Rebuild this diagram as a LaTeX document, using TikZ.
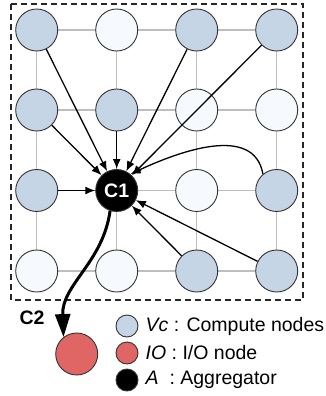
\documentclass[tikz,border=0pt]{standalone}
\usepackage{fontspec}
\setmainfont{Liberation Sans}
\usetikzlibrary{arrows.meta}
\definecolor{vcblue}{HTML}{C6D5E6}
\definecolor{vwhite}{HTML}{F6FAFE}
\definecolor{ioRed}{HTML}{E06666}
\definecolor{gridgray}{HTML}{BEBEBE}
\definecolor{edge}{HTML}{333333}
\tikzset{
  cnode/.style={circle, draw=edge, line width=0.9pt, minimum size=42pt, inner sep=0pt},
  busy/.style={cnode, fill=vcblue},
  idle/.style={cnode, fill=vwhite},
  agg/.style={cnode, fill=black, text=white, font=\fontsize{19.5}{22}\selectfont\bfseries},
  ionode/.style={cnode, fill=ioRed},
  legc/.style={circle, draw=edge, line width=0.9pt, minimum size=22pt, inner sep=0pt},
  legt/.style={anchor=west, inner sep=0pt, font=\fontsize{19.5}{22}\selectfont},
  gridline/.style={draw=gridgray, line width=1.5pt},
  arr/.style={-{Latex[length=10pt,width=8pt]}, line width=1.3pt, black},
  bigarr/.style={-{Triangle[length=23pt,width=15pt]}, line width=3pt, black},
  frame/.style={draw=black!85, line width=1.3pt, dash pattern=on 6pt off 4pt}
}
\begin{document}
\begin{tikzpicture}[x=1pt,y=1pt]
\useasboundingbox (0,0) rectangle (326,-396);
% grid lines
\foreach \yy in {30,110,190.5,271}{\draw[gridline] (36.7,-\yy) -- (276.7,-\yy);}
\foreach \xx in {36.7,116.7,196.7,276.7}{\draw[gridline] (\xx,-30) -- (\xx,-271);}
% frame
\draw[frame] (11,-4) rectangle (303,-300);
% nodes row 1
\node[busy] (n00) at (36.7,-30) {};
\node[idle] (n10) at (116.7,-30) {};
\node[busy] (n20) at (196.7,-30) {};
\node[busy] (n30) at (276.7,-30) {};
% row 2
\node[busy] (n01) at (36.7,-110) {};
\node[busy] (n11) at (116.7,-110) {};
\node[idle] (n21) at (196.7,-110) {};
\node[idle] (n31) at (276.7,-110) {};
% row 3
\node[busy] (n02) at (36.7,-190.5) {};
\node[agg] (C1) at (116.7,-190.5) {C1};
\node[idle] (n22) at (196.7,-190.5) {};
\node[busy] (n32) at (276.7,-190.5) {};
% row 4
\node[idle] (n03) at (36.7,-271) {};
\node[idle] (n13) at (116.7,-271) {};
\node[busy] (n23) at (196.7,-271) {};
\node[busy] (n33) at (276.7,-271) {};
% arrows to aggregator
\draw[arr] (n00) -- (C1);
\draw[arr] (n20) -- (C1);
\draw[arr] (n30) -- (C1);
\draw[arr] (n01) -- (C1);
\draw[arr] (n11) -- (C1);
\draw[arr] (n02) -- (C1);
\draw[arr] (n23) -- (C1);
\draw[arr] (n33) -- (C1);
\draw[arr] (n32.130) to[out=100,in=25] (C1.50);
% IO node
\node[ionode] (C2) at (76.7,-354) {};
\node[font=\fontsize{19.5}{22}\selectfont\bfseries, inner sep=0pt] (C2lab) at (32,-318) {C2};
\draw[bigarr] (C1.252) to[out=262,in=92] (C2.128);
% legend
\node[legc, fill=vcblue] (l1) at (127,-326) {};
\node[legc, fill=ioRed] (l2) at (127,-353) {};
\node[legc, fill=black] (l3) at (127,-380) {};
\node[legt] (t1) at (145.5,-326) {\itshape Vc\upshape{} : Compute nodes};
\node[legt] (t2) at (145.5,-353) {\itshape IO\upshape{} : I/O node};
\node[legt] (t3) at (145.5,-380) {\itshape A\upshape{}\ \ : Aggregator};
\end{tikzpicture}
\end{document}
